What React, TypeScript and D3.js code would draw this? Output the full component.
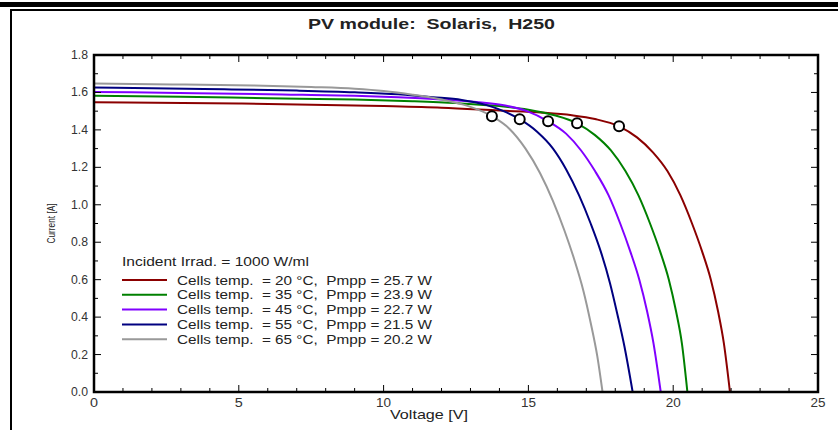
import * as d3 from "d3";

const W = 838;
const H = 430;
const M = { left: 94, right: 818, top: 55, bottom: 392 };

// I-V curves, [voltage V, current A]
const curve20: [number, number][] = [
  [0, 1.548], [5, 1.541], [10, 1.527], [12, 1.518], [14, 1.503], [15.5, 1.492], [16.5, 1.478],
  [17.3, 1.458], [18.13, 1.419], [18.75, 1.36], [19.3, 1.28], [19.8, 1.18], [20.25, 1.05],
  [20.65, 0.9], [21.0, 0.75], [21.3, 0.6], [21.55, 0.43], [21.75, 0.26], [21.96, 0],
];
const curve35: [number, number][] = [
  [0, 1.582], [3, 1.577], [6, 1.569], [9, 1.562], [11, 1.553], [12.5, 1.543], [14, 1.527],
  [15, 1.508], [15.9, 1.478], [16.68, 1.435], [17.3, 1.372], [17.85, 1.29], [18.35, 1.18],
  [18.8, 1.05], [19.2, 0.9], [19.55, 0.75], [19.85, 0.6], [20.1, 0.43], [20.3, 0.26], [20.49, 0],
];
const curve45: [number, number][] = [
  [0, 1.603], [3.5, 1.596], [6.5, 1.589], [9, 1.582], [10.5, 1.574], [12, 1.562], [13.2, 1.549],
  [14.2, 1.53], [14.95, 1.5], [15.68, 1.446], [16.3, 1.38], [16.82, 1.29], [17.3, 1.18],
  [17.77, 1.05], [18.17, 0.9], [18.52, 0.75], [18.83, 0.6], [19.1, 0.43], [19.32, 0.26], [19.57, 0],
];
const curve55: [number, number][] = [
  [0, 1.626], [2, 1.623], [4.5, 1.617], [7, 1.61], [9, 1.601], [10.5, 1.59], [11.7, 1.575],
  [12.7, 1.56], [13.5, 1.535], [14.1, 1.503], [14.7, 1.457], [15.3, 1.39], [15.85, 1.3],
  [16.3, 1.19], [16.75, 1.05], [17.15, 0.9], [17.5, 0.75], [17.82, 0.58], [18.08, 0.41],
  [18.32, 0.24], [18.6, 0],
];
const curve65: [number, number][] = [
  [0, 1.648], [2.7, 1.643], [5.5, 1.637], [7.5, 1.629], [9, 1.62], [10, 1.608], [11, 1.588],
  [12, 1.562], [12.9, 1.528], [13.74, 1.473], [14.35, 1.405], [14.9, 1.3], [15.4, 1.17],
  [15.85, 1.02], [16.25, 0.86], [16.6, 0.7], [16.9, 0.54], [17.15, 0.37], [17.38, 0.19], [17.56, 0],
];

const curves = [curve20, curve35, curve45, curve55, curve65];
const temps = [20, 35, 45, 55, 65];
const pmpp = ["25.7", "23.9", "22.7", "21.5", "20.2"];
const colors = ["#8b0000", "#008000", "#8000ff", "#000080", "#999999"];
const mppV = [18.13, 16.68, 15.68, 14.7, 13.74];
const mppI = [1.419, 1.435, 1.446, 1.457, 1.473];

const xTicks = [0, 5, 10, 15, 20, 25];
const yTicks = [0, 0.2, 0.4, 0.6, 0.8, 1.0, 1.2, 1.4, 1.6, 1.8];

const FONT = "'Liberation Sans', Arial, sans-serif";

export default function App() {
  const x = d3.scaleLinear().domain([0, 25]).range([M.left, M.right]);
  const y = d3.scaleLinear().domain([0, 1.8]).range([M.bottom, M.top]);
  const line = d3
    .line<[number, number]>()
    .x(d => x(d[0]))
    .y(d => y(d[1]))
    .curve(d3.curveMonotoneX);

  const minorX = d3.range(0, 26, 1);
  const minorY = d3.range(0, 19, 1).map(i => i / 10);

  return (
    <svg width={W} height={H} style={{ position: "absolute", left: 0, top: 0, background: "#fff" }}>
      {/* outer page frame */}
      <rect x={0} y={2} width={W} height={5} fill="#000" />
      <rect x={10} y={9} width={W - 10} height={2} fill="#000" />
      <rect x={10} y={9} width={2} height={H - 9} fill="#000" />

      <text
        x={431.5}
        y={29}
        textAnchor="middle"
        fontFamily={FONT}
        fontSize={15}
        fontWeight="bold"
        fill="#222"
        textLength={247}
        lengthAdjust="spacingAndGlyphs"
      >
        PV module:{"\u00a0\u00a0"}Solaris,{"\u00a0\u00a0"}H250
      </text>

      <defs>
        <clipPath id="clip">
          <rect x={M.left} y={M.top} width={M.right - M.left} height={M.bottom - M.top} />
        </clipPath>
      </defs>

      {/* curves */}
      <g clipPath="url(#clip)">
        {curves.map((c, k) => (
          <path key={k} d={line(c) ?? ""} fill="none" stroke={colors[k]} strokeWidth={2} />
        ))}
      </g>

      {/* MPP markers */}
      {mppV.map((v, k) => (
        <circle key={k} cx={x(v)} cy={y(mppI[k])} r={5} fill="#fff" stroke="#000" strokeWidth={2} />
      ))}

      {/* ticks, inward on all sides */}
      {minorX.map(v => {
        const len = v % 5 === 0 ? 7 : 4;
        return (
          <g key={"tx" + v} stroke="#000" strokeWidth={1}>
            <line x1={x(v)} x2={x(v)} y1={M.bottom} y2={M.bottom - len} />
            <line x1={x(v)} x2={x(v)} y1={M.top} y2={M.top + len} />
          </g>
        );
      })}
      {minorY.map((v, i) => {
        const len = i % 2 === 0 ? 7 : 4;
        return (
          <g key={"ty" + i} stroke="#000" strokeWidth={1}>
            <line x1={M.left} x2={M.left + len} y1={y(v)} y2={y(v)} />
            <line x1={M.right} x2={M.right - len} y1={y(v)} y2={y(v)} />
          </g>
        );
      })}

      {/* plot frame */}
      <rect
        x={M.left}
        y={M.top}
        width={M.right - M.left}
        height={M.bottom - M.top}
        fill="none"
        stroke="#000"
        strokeWidth={2.5}
      />

      {/* tick labels */}
      {yTicks.map(v => (
        <text
          key={"yl" + v}
          x={M.left - 6}
          y={y(v) + 4}
          textAnchor="end"
          fontFamily={FONT}
          fontSize={12}
          fill="#333"
          textLength={17}
          lengthAdjust="spacingAndGlyphs"
        >
          {v.toFixed(1)}
        </text>
      ))}
      {xTicks.map(v => (
        <text
          key={"xl" + v}
          x={x(v)}
          y={M.bottom + 15}
          textAnchor="middle"
          fontFamily={FONT}
          fontSize={12}
          fill="#333"
          textLength={v >= 10 ? 15 : 8}
          lengthAdjust="spacingAndGlyphs"
        >
          {v}
        </text>
      ))}

      <text
        x={429}
        y={419}
        textAnchor="middle"
        fontFamily={FONT}
        fontSize={13}
        fill="#222"
        textLength={78}
        lengthAdjust="spacingAndGlyphs"
      >
        Voltage [V]
      </text>
      <text
        transform={`translate(55,${(M.top + M.bottom) / 2}) rotate(-90)`}
        textAnchor="middle"
        fontFamily={FONT}
        fontSize={10}
        fill="#222"
        textLength={40}
        lengthAdjust="spacingAndGlyphs"
      >
        Current [A]
      </text>

      {/* legend */}
      <text
        x={122}
        y={266}
        fontFamily={FONT}
        fontSize={12}
        fill="#222"
        textLength={187}
        lengthAdjust="spacingAndGlyphs"
      >
        Incident Irrad. = 1000 W/ml
      </text>
      {temps.map((t, k) => {
        const ly = 280 + k * 14.8;
        return (
          <g key={"lg" + t}>
            <line x1={122} x2={167} y1={ly} y2={ly} stroke={colors[k]} strokeWidth={2} />
            <text
              x={177}
              y={ly + 4.5}
              fontFamily={FONT}
              fontSize={12}
              fill="#222"
              xmlSpace="preserve"
              textLength={255}
              lengthAdjust="spacingAndGlyphs"
            >
              {`Cells temp.  = ${t} °C,  Pmpp = ${pmpp[k]} W`}
            </text>
          </g>
        );
      })}
    </svg>
  );
}
